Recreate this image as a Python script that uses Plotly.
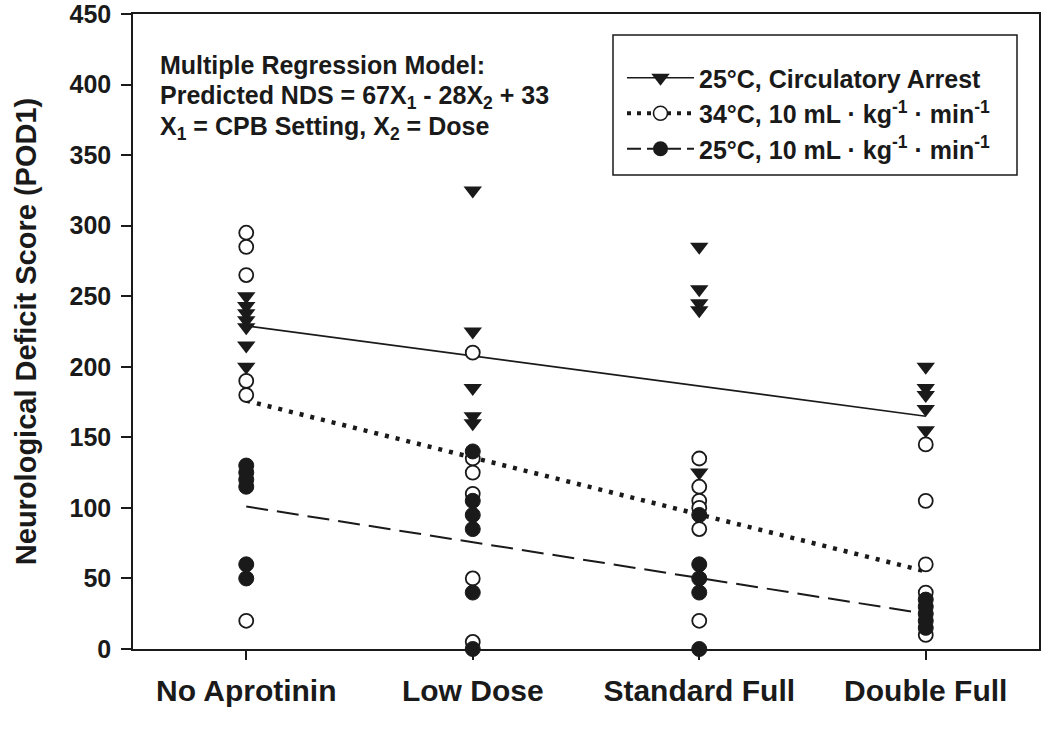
import plotly.graph_objects as go

categories = ["No Aprotinin", "Low Dose", "Standard Full", "Double Full"]
y_ticks = [0, 50, 100, 150, 200, 250, 300, 350, 400, 450]

# 25°C, Circulatory Arrest (triangles)
ca_no = [250, 243, 238, 233, 228, 215, 200]
ca_low = [325, 225, 185, 165, 160]
ca_std = [285, 255, 245, 240, 125]
ca_dbl = [200, 185, 180, 170, 155]

# 34°C, 10 mL/kg/min (open circles)
w34_no = [295, 285, 265, 190, 180, 20]
w34_low = [210, 135, 125, 110, 50, 5]
w34_std = [135, 115, 105, 100, 85, 20]
w34_dbl = [145, 105, 60, 40, 10]

# 25°C, 10 mL/kg/min (filled circles)
c25_no = [130, 125, 120, 115, 60, 50]
c25_low = [140, 105, 95, 85, 40, 0]
c25_std = [95, 60, 50, 40, 0]
c25_dbl = [35, 30, 25, 20, 15]

# regression line end values (first and last category)
fit_ca = [229, 165]
fit_34 = [176, 55]
fit_25 = [101, 25]

legend_names = [
    "25°C, Circulatory Arrest",
    "34°C, 10 mL · kg<sup>-1</sup> · min<sup>-1</sup>",
    "25°C, 10 mL · kg<sup>-1</sup> · min<sup>-1</sup>",
]


def flatten(groups):
    xs, ys = [], []
    for i, g in enumerate(groups):
        xs += [i] * len(g)
        ys += g
    return xs, ys


BLACK = "#1a1a1a"
W, H = 1050, 735
# target plot area in pixels: left 133, right 1039, top 14, bottom 649
L, R, T, B = 133, W - 1039, 14, H - 649
PW, PH = W - L - R, H - T - B


def px(X):
    return (X - L) / PW


def py(Y):
    return (H - B - Y) / PH


fig = go.Figure()

fit_x = [0, len(categories) - 1]
fig.add_trace(go.Scatter(x=fit_x, y=fit_ca, mode="lines", line=dict(color=BLACK, width=1.6),
                         showlegend=False, hoverinfo="skip"))
fig.add_trace(go.Scatter(x=fit_x, y=fit_34, mode="lines", line=dict(color=BLACK, width=4.5, dash="4px,7px"),
                         showlegend=False, hoverinfo="skip"))
fig.add_trace(go.Scatter(x=fit_x, y=fit_25, mode="lines", line=dict(color=BLACK, width=2, dash="22px,9px"),
                         showlegend=False, hoverinfo="skip"))

x, y = flatten([w34_no, w34_low, w34_std, w34_dbl])
fig.add_trace(go.Scatter(x=x, y=y, mode="markers", cliponaxis=False, showlegend=False,
                         marker=dict(symbol="circle", size=14, color="white", line=dict(color=BLACK, width=1.8))))
x, y = flatten([c25_no, c25_low, c25_std, c25_dbl])
fig.add_trace(go.Scatter(x=x, y=y, mode="markers", cliponaxis=False, showlegend=False,
                         marker=dict(symbol="circle", size=15, color=BLACK, line=dict(color=BLACK, width=1))))
x, y = flatten([ca_no, ca_low, ca_std, ca_dbl])
fig.add_trace(go.Scatter(x=x, y=y, mode="markers", cliponaxis=False, showlegend=False,
                         marker=dict(symbol="triangle-down", size=16, color=BLACK, line=dict(color=BLACK, width=0))))

# legend entries
fig.add_trace(go.Scatter(x=[None], y=[None], mode="lines+markers", name=legend_names[0],
                         line=dict(color=BLACK, width=1.6),
                         marker=dict(symbol="triangle-down", size=16, color=BLACK)))
fig.add_trace(go.Scatter(x=[None], y=[None], mode="lines+markers", name=legend_names[1],
                         line=dict(color=BLACK, width=4, dash="4px,6px"),
                         marker=dict(symbol="circle", size=14, color="white", line=dict(color=BLACK, width=1.6))))
fig.add_trace(go.Scatter(x=[None], y=[None], mode="lines+markers", name=legend_names[2],
                         line=dict(color=BLACK, width=2, dash="14px,6px"),
                         marker=dict(symbol="circle", size=15, color=BLACK)))

font_family = "Liberation Sans, Arial, sans-serif"

ann_lines = [
    "<b>Multiple Regression Model:</b>",
    "<b>Predicted NDS = 67X<sub>1</sub> - 28X<sub>2</sub> + 33</b>",
    "<b>X<sub>1</sub> = CPB Setting, X<sub>2</sub> = Dose</b>",
]
ann_ypix = [65, 97, 128]
annotations = [
    dict(text=t, xref="paper", yref="paper", x=px(158), y=py(yy), xanchor="left", yanchor="middle",
         showarrow=False, align="left", font=dict(size=25, color=BLACK, family=font_family))
    for t, yy in zip(ann_lines, ann_ypix)
]

shapes = [
    dict(type="rect", xref="paper", yref="paper", x0=px(613), x1=px(1017), y0=py(175), y1=py(35),
         line=dict(color=BLACK, width=1.5), fillcolor="rgba(0,0,0,0)", layer="above")
]

fig.update_layout(
    width=W, height=H,
    margin=dict(l=L, r=R, t=T, b=B),
    paper_bgcolor="white", plot_bgcolor="white",
    font=dict(family=font_family, color=BLACK),
    annotations=annotations,
    shapes=shapes,
    legend=dict(x=px(622), y=py(55), xanchor="left", yanchor="top",
                borderwidth=0, bgcolor="rgba(0,0,0,0)",
                font=dict(size=25, weight="bold", color=BLACK, family=font_family),
                itemwidth=67, tracegroupgap=0),
    xaxis=dict(range=[-0.5, 3.5], tickmode="array", tickvals=list(range(len(categories))),
               ticktext=[f"<b>{c}</b>" for c in categories], showgrid=False, zeroline=False,
               showline=True, linecolor=BLACK, linewidth=1.5, mirror=True, automargin=False,
               ticks="outside", ticklen=9, tickwidth=1.5, tickcolor=BLACK, ticklabeloverflow="allow",
               tickfont=dict(size=30, color=BLACK, family=font_family), ticklabelstandoff=5),
    yaxis=dict(range=[0, 450], tickmode="array", tickvals=y_ticks,
               ticktext=[f"<b>{v}</b>" for v in y_ticks], showgrid=False, zeroline=False,
               showline=True, linecolor=BLACK, linewidth=1.5, mirror=True, automargin=False,
               ticks="outside", ticklen=10, tickwidth=1.5, tickcolor=BLACK, ticklabelstandoff=5,
               ticklabeloverflow="allow",
               tickfont=dict(size=25, color=BLACK, family=font_family),
               title=dict(text="<b>Neurological Deficit Score (POD1)</b>", standoff=24,
                          font=dict(size=29, color=BLACK, family=font_family))),
)

fig.write_html("out.html", config={"displayModeBar": False},
               post_script="document.body.style.margin='0px';")
